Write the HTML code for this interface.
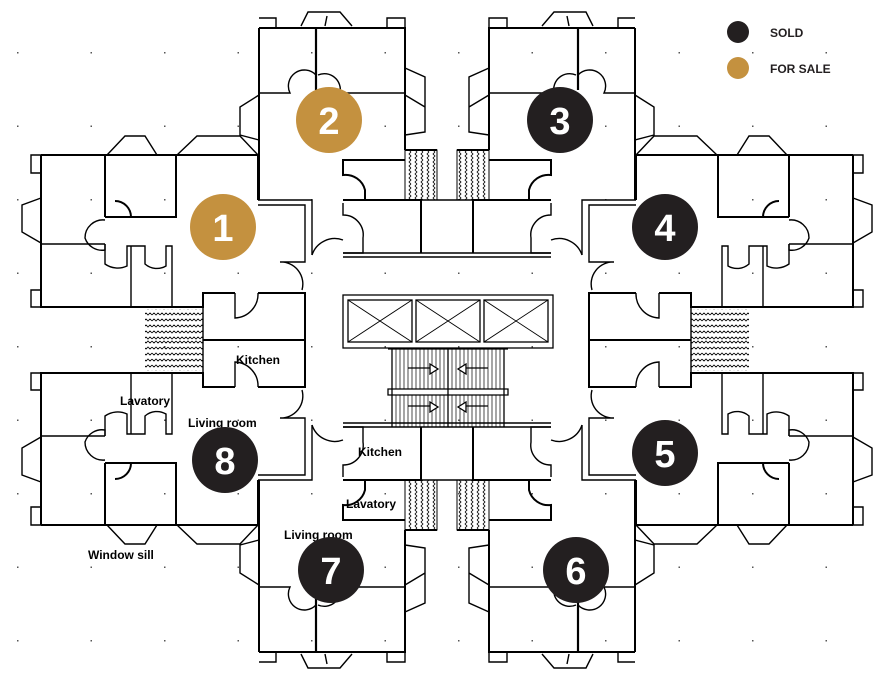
<!DOCTYPE html>
<html><head><meta charset="utf-8"><style>
html,body{margin:0;padding:0;background:#fff;}
svg{display:block;}
text{font-family:"Liberation Sans",Arial,sans-serif;}
</style></head><body>
<svg width="894" height="680" viewBox="0 0 894 680" xmlns="http://www.w3.org/2000/svg">
<defs>
<pattern id="zz" width="8" height="6" patternUnits="userSpaceOnUse">
<path d="M0,3 L2,1 L4,3 L6,1 L8,3" fill="none" stroke="#000" stroke-width="0.8"/>
</pattern>
<pattern id="zv" width="6" height="8" patternUnits="userSpaceOnUse">
<path d="M3,0 L1,2 L3,4 L1,6 L3,8" fill="none" stroke="#000" stroke-width="0.8"/>
</pattern>
<pattern id="dots" width="73.5" height="73.5" patternUnits="userSpaceOnUse" x="17" y="52">
<rect x="0" y="0" width="1.5" height="1.5" fill="#555"/>
</pattern>
<g id="q" fill="none" stroke="#000" stroke-width="1.4">
<!-- unit 1 -->
<path d="M41,155 H258 V200 M41,155 V307 H203 V293 H235 M258,293 H305 V340" stroke-width="2"/>
<path d="M31,155 H41 V173 H31 Z M31,290 H41 V307 H31 Z"/>
<path d="M41,198 L22,205 V232 L41,243"/>
<path d="M107,155 L125,136 H145 L157,155 M177,155 L197,136 H240 L258,155"/>
<path d="M105,155 V217 M105,217 H131 M131,217 A16,16 0 0 0 115,201 M176,155 V217 H131" stroke-width="2"/>
<path d="M41,244 H105 M176,217 V217"/>
<path d="M105,244 V250 A18,18 0 0 1 85,238 A18,18 0 0 1 105,220"/>
<path d="M105,244 V264 A22,22 0 0 0 127,266 V246 H145 V264 A18,18 0 0 0 166,266 V246 H172 V307" stroke-width="1.4"/>
<path d="M131,246 V307"/>
<path d="M235,293 V318 A24,24 0 0 0 258,293"/>
<path d="M203,307 V340 M145,307 H203"/>
<rect x="145" y="309" width="58" height="31" fill="url(#zz)" stroke="none"/>
<path d="M203,340 H305" stroke-width="2"/>
<path d="M258,200 H312 V255 M258,205 H305 V262 H280 A22,22 0 0 1 302,290"/>
<!-- unit 2 -->
<path d="M259,28 H405 V150 M259,28 V200" stroke-width="2"/>
<path d="M259,18 H276 V28 M387,28 V18 H405 V28"/>
<path d="M301,26 L308,12 H340 L352,26 M325,26 L327,16"/>
<path d="M316,28 V90" stroke-width="2.2"/>
<path d="M259,93 H290 A16,16 0 0 1 316,75 M340,93 H405 M340,93 A16,16 0 0 0 318,75"/>
<path d="M405,68 L425,77 V132 L405,135 M405,95 L425,107"/>
<path d="M259,95 L240,107 V135 L259,140"/>
<path d="M405,160 H343 V175 A20,20 0 0 1 365,190 V200" stroke-width="2"/>
<path d="M343,200 H421 V253" stroke-width="2"/>
<path d="M343,203 V215 A20,20 0 0 1 363,238 V253 H343"/>
<path d="M343,253 H447 M343,257 H447"/>
<path d="M421,200 H447" stroke-width="1.4"/>
<rect x="405" y="150" width="32" height="50" fill="url(#zv)" stroke="#000" stroke-width="1"/>
<path d="M405,150 H437" stroke-width="2"/>
<path d="M312,255 A24,24 0 0 1 343,240"/>
</g>
</defs>
<rect width="894" height="680" fill="url(#dots)"/>
<use href="#q"/>
<use href="#q" transform="matrix(-1 0 0 1 894 0)"/>
<use href="#q" transform="matrix(1 0 0 -1 0 680)"/>
<use href="#q" transform="matrix(-1 0 0 -1 894 680)"/>
<!-- core -->
<g fill="none" stroke="#000" stroke-width="1.3">
<rect x="343" y="295" width="210" height="53"/>
<rect x="348" y="300" width="64" height="42"/>
<rect x="416" y="300" width="64" height="42"/>
<rect x="484" y="300" width="64" height="42"/>
<path d="M348,300 L412,342 M412,300 L348,342 M416,300 L480,342 M480,300 L416,342 M484,300 L548,342 M548,300 L484,342" stroke-width="0.9"/>
<path d="M388,349 H508 M388,389 H508 V395 H388 Z"/>
<path d="M392,349 V427 M504,349 V427 M448,349 V427"/>
<path d="M396,349V389M400,349V389M404,349V389M408,349V389M412,349V389M416,349V389M420,349V389M424,349V389M428,349V389M432,349V389M436,349V389M440,349V389M444,349V389M452,349V389M456,349V389M460,349V389M464,349V389M468,349V389M472,349V389M476,349V389M480,349V389M484,349V389M488,349V389M492,349V389M496,349V389M500,349V389
M396,395V427M400,395V427M404,395V427M408,395V427M412,395V427M416,395V427M420,395V427M424,395V427M428,395V427M432,395V427M436,395V427M440,395V427M444,395V427M452,395V427M456,395V427M460,395V427M464,395V427M468,395V427M472,395V427M476,395V427M480,395V427M484,395V427M488,395V427M492,395V427M496,395V427M500,395V427" stroke-width="0.7"/>
<path d="M408,368 H430 M430,364 L438,369 L430,374 Z M488,368 H466 M466,364 L458,369 L466,374 Z M408,406 H430 M430,402 L438,407 L430,412 Z M488,406 H466 M466,402 L458,407 L466,412 Z" fill="#fff"/>
</g>
<!-- labels -->
<g font-weight="bold" font-size="12" fill="#000">
<text x="236" y="364">Kitchen</text>
<text x="120" y="405">Lavatory</text>
<text x="188" y="427">Living room</text>
<text x="88" y="559">Window sill</text>
<text x="358" y="456">Kitchen</text>
<text x="346" y="508">Lavatory</text>
<text x="284" y="539">Living room</text>
</g>
<!-- markers -->
<g font-weight="bold" font-size="38" fill="#fff" text-anchor="middle">
<circle cx="223" cy="227" r="33" fill="#c4913f"/><text x="223" y="241">1</text>
<circle cx="329" cy="120" r="33" fill="#c4913f"/><text x="329" y="134">2</text>
<circle cx="560" cy="120" r="33" fill="#231f20"/><text x="560" y="134">3</text>
<circle cx="665" cy="227" r="33" fill="#231f20"/><text x="665" y="241">4</text>
<circle cx="665" cy="453" r="33" fill="#231f20"/><text x="665" y="467">5</text>
<circle cx="576" cy="570" r="33" fill="#231f20"/><text x="576" y="584">6</text>
<circle cx="331" cy="570" r="33" fill="#231f20"/><text x="331" y="584">7</text>
<circle cx="225" cy="460" r="33" fill="#231f20"/><text x="225" y="474">8</text>
</g>
<circle cx="738" cy="32" r="11" fill="#231f20"/>
<circle cx="738" cy="68" r="11" fill="#c4913f"/>
<text x="770" y="37" font-weight="bold" font-size="12" fill="#231f20">SOLD</text>
<text x="770" y="73" font-weight="bold" font-size="12" fill="#231f20">FOR SALE</text>
</svg>
</body></html>
